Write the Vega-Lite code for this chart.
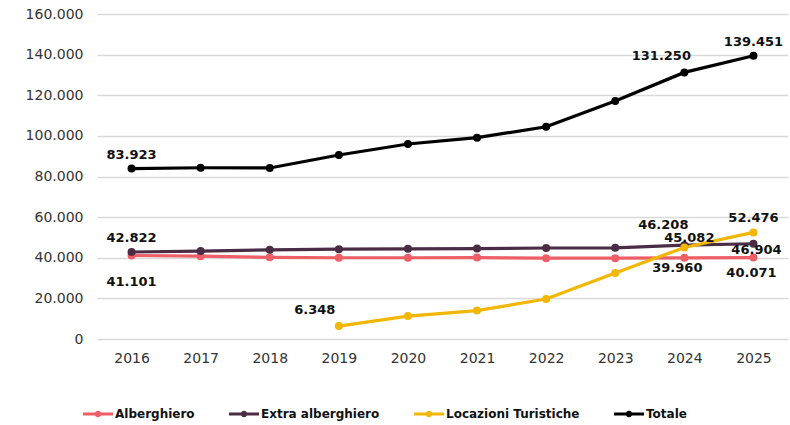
{
  "$schema": "https://vega.github.io/schema/vega-lite/v6.json",
  "width": 691,
  "height": 325,
  "autosize": "none",
  "padding": {"left": 97, "top": 14, "right": 2, "bottom": 86},
  "background": "white",
  "config": {
    "font": "DejaVu Sans",
    "view": {"stroke": null},
    "locale": {"number": {"decimal": ",", "thousands": ".", "grouping": [3], "currency": ["", " €"]}}
  },
  "data": {"values": [
    {"year": "2016", "series": "Alberghiero", "value": 41101},
    {"year": "2017", "series": "Alberghiero", "value": 40800},
    {"year": "2018", "series": "Alberghiero", "value": 40200},
    {"year": "2019", "series": "Alberghiero", "value": 40000},
    {"year": "2020", "series": "Alberghiero", "value": 40000},
    {"year": "2021", "series": "Alberghiero", "value": 40100},
    {"year": "2022", "series": "Alberghiero", "value": 39800},
    {"year": "2023", "series": "Alberghiero", "value": 39800},
    {"year": "2024", "series": "Alberghiero", "value": 39960},
    {"year": "2025", "series": "Alberghiero", "value": 40071},
    {"year": "2016", "series": "Extra alberghiero", "value": 42822},
    {"year": "2017", "series": "Extra alberghiero", "value": 43300},
    {"year": "2018", "series": "Extra alberghiero", "value": 43900},
    {"year": "2019", "series": "Extra alberghiero", "value": 44200},
    {"year": "2020", "series": "Extra alberghiero", "value": 44400},
    {"year": "2021", "series": "Extra alberghiero", "value": 44500},
    {"year": "2022", "series": "Extra alberghiero", "value": 44800},
    {"year": "2023", "series": "Extra alberghiero", "value": 44900},
    {"year": "2024", "series": "Extra alberghiero", "value": 46208},
    {"year": "2025", "series": "Extra alberghiero", "value": 46904},
    {"year": "2019", "series": "Locazioni Turistiche", "value": 6348},
    {"year": "2020", "series": "Locazioni Turistiche", "value": 11300},
    {"year": "2021", "series": "Locazioni Turistiche", "value": 14000},
    {"year": "2022", "series": "Locazioni Turistiche", "value": 19700},
    {"year": "2023", "series": "Locazioni Turistiche", "value": 32500},
    {"year": "2024", "series": "Locazioni Turistiche", "value": 45082},
    {"year": "2025", "series": "Locazioni Turistiche", "value": 52476},
    {"year": "2016", "series": "Totale", "value": 83923},
    {"year": "2017", "series": "Totale", "value": 84300},
    {"year": "2018", "series": "Totale", "value": 84200},
    {"year": "2019", "series": "Totale", "value": 90600},
    {"year": "2020", "series": "Totale", "value": 96000},
    {"year": "2021", "series": "Totale", "value": 99100},
    {"year": "2022", "series": "Totale", "value": 104500},
    {"year": "2023", "series": "Totale", "value": 117200},
    {"year": "2024", "series": "Totale", "value": 131250},
    {"year": "2025", "series": "Totale", "value": 139451}
  ]},
  "encoding": {
    "x": {
      "field": "year", "type": "ordinal",
      "scale": {"type": "point", "padding": 0.5},
      "axis": {"title": null, "grid": false, "domain": false, "ticks": false, "labelAngle": 0,
               "labelFontSize": 14, "labelColor": "#333333", "labelPadding": 12}
    },
    "y": {
      "field": "value", "type": "quantitative",
      "scale": {"domain": [0, 160000]},
      "axis": {"title": null, "values": [0, 20000, 40000, 60000, 80000, 100000, 120000, 140000, 160000],
               "format": ",.0f", "domain": false, "ticks": false, "gridColor": "#d9d9d9", "gridWidth": 1.5,
               "labelFontSize": 14, "labelColor": "#333333", "labelPadding": 14}
    }
  },
  "layer": [
    {
      "mark": {"type": "line", "strokeWidth": 3.2, "point": {"filled": true, "size": 64}},
      "encoding": {
        "color": {
          "field": "series", "type": "nominal",
          "scale": {"domain": ["Alberghiero", "Extra alberghiero", "Locazioni Turistiche", "Totale"],
                    "range": ["#EE5E66", "#4B2C45", "#F2B705", "#000000"]},
          "legend": {
            "title": null, "orient": "none", "legendX": -14, "legendY": 385, "direction": "horizontal",
            "symbolType": "M-1,-0.1L1,-0.1L1,0.1L-1,0.1Z M-0.22,0A0.22,0.22 0 1,1 0.22,0A0.22,0.22 0 1,1 -0.22,0Z",
            "symbolSize": 900, "symbolStrokeWidth": 0, "labelFontSize": 12, "labelFontWeight": "bold",
            "labelColor": "#111111", "labelOffset": 2, "columnPadding": 34
          }
        }
      }
    },
    {
      "transform": [{"filter": "(datum.series==='Totale' && (datum.year==='2016' || datum.year==='2025')) || (datum.series==='Extra alberghiero' && datum.year==='2016') || (datum.series==='Locazioni Turistiche' && datum.year==='2025')"}],
      "mark": {"type": "text", "fontWeight": "bold", "fontSize": 13, "dy": -14, "color": "#111111"},
      "encoding": {"text": {"field": "value", "type": "quantitative", "format": ","}}
    },
    {
      "transform": [{"filter": "datum.series==='Totale' && datum.year==='2024'"}],
      "mark": {"type": "text", "fontWeight": "bold", "fontSize": 13, "dx": -23, "dy": -16, "color": "#111111"},
      "encoding": {"text": {"field": "value", "type": "quantitative", "format": ","}}
    },
    {
      "transform": [{"filter": "datum.series==='Alberghiero' && datum.year==='2016'"}],
      "mark": {"type": "text", "fontWeight": "bold", "fontSize": 13, "dy": 26, "color": "#111111"},
      "encoding": {"text": {"field": "value", "type": "quantitative", "format": ","}}
    },
    {
      "transform": [{"filter": "datum.series==='Locazioni Turistiche' && datum.year==='2019'"}],
      "mark": {"type": "text", "fontWeight": "bold", "fontSize": 13, "dx": -24, "dy": -16, "color": "#111111"},
      "encoding": {"text": {"field": "value", "type": "quantitative", "format": ","}}
    },
    {
      "transform": [{"filter": "datum.series==='Extra alberghiero' && datum.year==='2024'"}],
      "mark": {"type": "text", "fontWeight": "bold", "fontSize": 13, "dx": -21, "dy": -20, "color": "#111111"},
      "encoding": {"text": {"field": "value", "type": "quantitative", "format": ","}}
    },
    {
      "transform": [{"filter": "datum.series==='Locazioni Turistiche' && datum.year==='2024'"}],
      "mark": {"type": "text", "fontWeight": "bold", "fontSize": 13, "dx": 5, "dy": -9, "color": "#111111"},
      "encoding": {"text": {"field": "value", "type": "quantitative", "format": ","}}
    },
    {
      "transform": [{"filter": "datum.series==='Alberghiero' && datum.year==='2024'"}],
      "mark": {"type": "text", "fontWeight": "bold", "fontSize": 13, "dx": -7, "dy": 10, "color": "#111111"},
      "encoding": {"text": {"field": "value", "type": "quantitative", "format": ","}}
    },
    {
      "transform": [{"filter": "datum.series==='Extra alberghiero' && datum.year==='2025'"}],
      "mark": {"type": "text", "fontWeight": "bold", "fontSize": 13, "dx": 3, "dy": 6, "color": "#111111"},
      "encoding": {"text": {"field": "value", "type": "quantitative", "format": ","}}
    },
    {
      "transform": [{"filter": "datum.series==='Alberghiero' && datum.year==='2025'"}],
      "mark": {"type": "text", "fontWeight": "bold", "fontSize": 13, "dx": -2, "dy": 15, "color": "#111111"},
      "encoding": {"text": {"field": "value", "type": "quantitative", "format": ","}}
    }
  ]
}
